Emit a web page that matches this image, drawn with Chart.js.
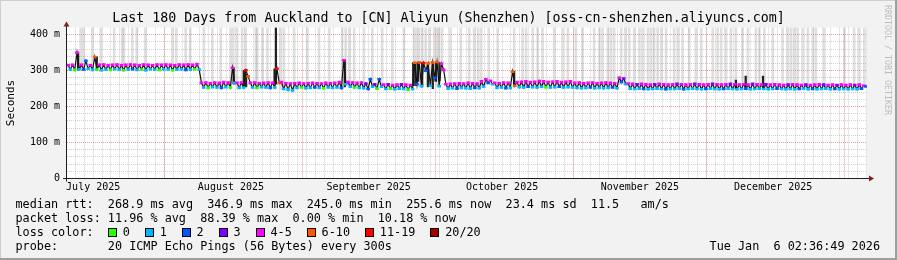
<!DOCTYPE html>
<html><head><meta charset="utf-8">
<script src="https://cdn.jsdelivr.net/npm/chart.js@4/dist/chart.umd.min.js"></script>
<style>
html,body{margin:0;padding:0;background:#f2f2f2;overflow:hidden}
canvas{display:block}
</style></head>
<body><canvas id="c" width="897" height="260"></canvas>
<script>
// ---------------- DATA ----------------
const chartTitle = 'Last 180 Days from Auckland to [CN] Aliyun (Shenzhen) [oss-cn-shenzhen.aliyuncs.com]';
const monthLabels = ['July 2025','August 2025','September 2025','October 2025','November 2025','December 2025'];
const yTickLabels = ['0','100 m','200 m','300 m','400 m'];
const yMaxMs = 420;
const lossLabels = ['0','1','2','3','4-5','6-10','11-19','20/20'];
const lossColors = ['#26ff00','#00b8ff','#0059ff','#7e00ff','#ff00ff','#ff5500','#ff0000','#a00000'];

// daily median high / low (ms), day 0 = Jul 10 2025
const medHi = [
 315,316,350,316,327,315,338,316,317,315, 316,317,315,316,317,316,315,317,316,315,
 317,316,317,316,315,317,316,317,316,318,
 266,267,265,267,266,268,267,308,266,267, 301,266,267,265,266,267,266,305,268,265,
 264,265,266,264,265,266,265,264,266,265, 266,268,329,268,267,266,267,264,276,262,
 276,261,262,260,261,262,261,260,
 322,323,321,320,323,324,319,
 262,263,264,265,264,266,265,264,
 270,276,272,266,265,267,266,
 297,
 268,269,270,268,269,271,270,268,269,270,268,269,270,
 266,267,265,266,267,265,266,267,266,265,
 280,278,
 264,263,262,263,262,261,262,263,262,261, 262,263,262,261,262,263,262,261,262,263,
 262,261,262,263,262,261,262,261,263,262, 261,262,261,262,261,260,261,262,261,260,
 261,260,261,262,261,260,261,260,261,260, 261,260,261,258
];
const medLo = [
 303,302,304,303,305,302,303,301,303,302, 304,303,301,303,304,302,303,301,304,303,
 302,304,303,301,303,304,302,303,304,303,
 253,252,254,253,252,254,253,266,252,253, 284,253,252,254,253,252,253,266,249,247,
 245,252,253,251,252,253,252,251,253,252, 253,252,262,255,253,252,251,249,255,250,
 255,249,250,248,250,249,247,249,
 262,257,300,258,280,257,302,
 250,251,250,252,251,250,252,251,
 256,266,262,252,253,251,252,
 258,
 254,253,255,254,253,255,254,253,254,255,253,254,253,
 252,251,252,253,251,252,251,252,253,251,
 268,262,
 250,249,250,249,248,249,250,249,248,249, 249,250,248,249,250,249,248,249,250,249,
 248,249,250,249,248,249,250,248,249,250, 249,248,249,250,249,248,249,248,249,250,
 248,249,248,249,250,248,249,248,249,248, 249,248,250,256
];
// loss class index (into lossLabels) for the high / low medians
const lossHi = [
 4,4,4,4,2,4,5,4,4,4, 4,4,4,4,4,4,4,4,4,4, 4,4,4,4,4,4,4,4,4,4,
 4,4,4,4,4,4,4,4,4,4, 6,4,4,4,4,4,4,6,4,4, 4,4,4,4,4,4,4,4,4,4, 4,4,4,4,4,4,4,3,2,3,
 2,4,3,4,4,3,4,4,
 5,5,6,5,5,5,4,
 4,4,4,4,4,4,4,4, 4,4,4,4,4,4,4, 5, 4,4,4,4,4,4,4,4,4,4,4,4,4, 4,4,4,4,4,4,4,4,4,4, 4,3,
 4,4,3,4,4,4,3,4,4,4, 4,3,4,4,4,3,4,4,4,3, 4,4,4,3,4,4,4,4,3,4,
 4,3,4,4,4,4,3,4,4,4, 3,4,4,4,3,4,4,3,4,4, 4,3,4,4
];
const lossLo = [
 1,0,1,2,1,1,0,1,1,0, 1,1,0,1,2,1,0,1,1,1, 0,1,1,0,1,1,2,1,0,1,
 1,0,1,1,2,1,0,1,1,1, 5,1,0,1,1,2,1,5,1,1, 1,1,0,1,1,2,1,0,1,1, 1,2,1,1,0,1,1,2,1,0,
 1,1,0,1,1,1,0,1,
 2,1,2,1,2,1,4,
 1,1,2,1,1,1,2,1, 1,2,1,1,1,2,1, 5, 1,1,2,1,1,1,0,1,1,2,1,1,1, 1,1,1,2,1,1,1,1,2,1, 2,1,
 1,1,1,2,1,1,1,1,2,1, 1,1,2,1,1,1,1,2,1,1, 1,2,1,1,1,1,2,1,1,1,
 1,1,1,2,1,1,1,1,2,1, 1,2,1,1,1,1,2,1,1,1, 1,1,2,2
];
// days with smoke (ping spread) reaching the top of the graph
const smokeDays = [3.1,3.7,5.7,7.6,10.6,12.4,12.8,14.7,15.7,17.6,23.7,24.6,26.7,27.7,30.8,32.7,
 34.6,36.8,37.4,38.3,39.4,40.2,42.5,42.8,44.0,45.1,48.1,48.8,51.1,54.1,56.7,59.0,61.9,62.7,63.5,
 64.6,66.8,68.7,70.9,73.2,75.8,78.1,78.7,79.2,79.9,80.7,81.5,82.6,83.3,83.7,84.4,86.3,88.6,90.5,
 91.6,92.5,93.2,94.9,96.9,100.6,102.5,103.3,104.8,105.9,107.0,109.6,111.5,112.7,114.5,116.0,
 118.6,119.8,120.5,121.7,122.4,123.1,124.7,125.6,126.5,127.6,128.8,129.5,130.7,131.4,132.1,
 132.9,133.7,134.8,136.6,137.4,138.5,140.0,141.5,142.7,145.3,146.4,147.2,148.3,149.4,150.5,
 152.0,153.2,155.0,155.8,156.9,158.8,161.0,162.2,162.9,163.6,164.4,165.5,166.7,167.8,168.5,
 170.4,174.9,177.1,178.3,179.4];
// dense dark smoke columns: day, low, high (ms)
const darkDays = [2.5,6.7,37.5,39.8,40.3,46.7,47.0,62.5,77.9,78.4,79.0,79.9,81.2,82.3,83.0,83.8,100.6,150.5,152.7,156.6];
const darkLow  = [302,302,262,255,255,262,262,255,258,258,270,255,255,250,270,272,255,250,250,250];
const darkHigh = [350,338,308,301,290,305,420,329,322,322,322,322,322,322,322,322,298,274,285,285];

const statLines = [
 'median rtt:  268.9 ms avg  346.9 ms max  245.0 ms min  255.6 ms now  23.4 ms sd  11.5   am/s',
 'packet loss: 11.96 % avg  88.39 % max  0.00 % min  10.18 % now'
];
const lossCaption = 'loss color:';
const probeLine = 'probe:       20 ICMP Echo Pings (56 Bytes) every 300s';
const stampText = 'Tue Jan  6 02:36:49 2026';
const watermark = 'RRDTOOL / TOBI OETIKER';

// ---------------- TIME AXIS HELPERS ----------------
const startMs = Date.UTC(2025, 6, 10, 2, 36, 49);
const toDay = ms => (ms - startMs) / 864e5;
const monthStarts = [];
const monthMids = [];
for (let m = 6; m <= 12; m++) {
  const t = Date.UTC(2025, m, 1);
  if (toDay(t) > 0 && toDay(t) < 180) monthStarts.push(toDay(t));
  if (m < 12) monthMids.push(toDay(Date.UTC(2025, m, 16)));
}
const minorDays = [];
for (let t = Date.UTC(2025, 6, 12); toDay(t) < 180; t += 2 * 864e5) minorDays.push(toDay(t));

// ---------------- DATASETS ----------------
const medianPts = [], markerCols = [];
for (let d = 0; d < medHi.length; d++) {
  medianPts.push({x: d + 0.25, y: medHi[d]}); markerCols.push(lossColors[lossHi[d]]);
  medianPts.push({x: d + 0.75, y: medLo[d]}); markerCols.push(lossColors[lossLo[d]]);
}
const smokePts = smokeDays.map(d => ({x: d, y: [medLo[Math.min(medLo.length - 1, Math.floor(d))] - 2, yMaxMs]}));
const darkPts = darkDays.map((d, i) => ({x: d, y: [darkLow[i], darkHigh[i]]}));

const MONO = 'DejaVu Sans Mono';
const GRID_MINOR = 'rgba(143,143,143,0.42)';
const GRID_MAJOR = 'rgba(222,79,79,0.55)';

const rrdPlugin = {
  id: 'rrd',
  beforeDraw(chart) {
    const {ctx, chartArea: a} = chart;
    ctx.save();
    ctx.fillStyle = '#f2f2f2'; ctx.fillRect(0, 0, 897, 260);
    ctx.fillStyle = '#cfcfcf'; ctx.fillRect(0, 0, 897, 1); ctx.fillRect(0, 0, 1, 260);
    ctx.fillStyle = '#9e9e9e'; ctx.fillRect(0, 258, 897, 2); ctx.fillRect(895, 0, 2, 260);
    ctx.fillStyle = '#ffffff'; ctx.fillRect(a.left, a.top, a.right - a.left, a.bottom - a.top);
    ctx.restore();
  },
  afterDraw(chart) {
    const {ctx, chartArea: a} = chart;
    const y0 = chart.scales.y.getPixelForValue(0);
    ctx.save();
    // axes
    ctx.strokeStyle = '#1f1f1f'; ctx.lineWidth = 1;
    ctx.beginPath();
    ctx.moveTo(a.left - 4, Math.round(y0) - 0.5); ctx.lineTo(a.right + 5, Math.round(y0) - 0.5);
    ctx.moveTo(a.left - 0.5, y0 + 3); ctx.lineTo(a.left - 0.5, a.top - 4);
    ctx.stroke();
    // arrows
    ctx.fillStyle = '#801f1f';
    ctx.beginPath();
    ctx.moveTo(a.right + 2, Math.round(y0) - 3.5); ctx.lineTo(a.right + 7, Math.round(y0) - 0.5); ctx.lineTo(a.right + 2, Math.round(y0) + 2.5);
    ctx.closePath(); ctx.fill();
    ctx.beginPath();
    ctx.moveTo(a.left - 3.5, a.top - 1); ctx.lineTo(a.left - 0.5, a.top - 6); ctx.lineTo(a.left + 2.5, a.top - 1);
    ctx.closePath(); ctx.fill();
    // legend texts
    ctx.fillStyle = '#000';
    ctx.font = '11.8px "' + MONO + '"';
    ctx.textBaseline = 'middle';
    ctx.textAlign = 'left';
    const lx = 15.5, rows = [204.5, 218.7, 232.8, 246.9];
    const cw = ctx.measureText('0').width;
    ctx.fillText(statLines[0], lx, rows[0]);
    ctx.fillText(statLines[1], lx, rows[1]);
    ctx.fillText(lossCaption, lx, rows[2]);
    let bx = lx + 13 * cw;
    lossLabels.forEach((lab, i) => {
      ctx.fillStyle = lossColors[i];
      ctx.fillRect(Math.round(bx), 228, 8, 8);
      ctx.strokeStyle = '#000'; ctx.lineWidth = 1;
      ctx.strokeRect(Math.round(bx) + 0.5, 228.5, 8, 8);
      ctx.fillStyle = '#000';
      const tx = bx + 2.1 * cw;
      ctx.fillText(lab, tx, rows[2]);
      bx = tx + ctx.measureText(lab).width + 2.1 * cw;
    });
    ctx.fillText(probeLine, lx, rows[3]);
    ctx.textAlign = 'right';
    ctx.fillText(stampText, 880, rows[3]);
    // watermark
    ctx.translate(887, 5);
    ctx.rotate(Math.PI / 2);
    ctx.textAlign = 'left';
    ctx.fillStyle = '#bdbdbd';
    ctx.font = '8.3px "' + MONO + '"';
    ctx.fillText(watermark, 0, 0);
    ctx.restore();
  }
};

new Chart(document.getElementById('c'), {
  type: 'line',
  data: {
    datasets: [
      {type: 'line', label: 'median', data: medianPts, borderColor: '#141414', borderWidth: 1.2,
       pointRadius: 0, tension: 0, order: 2},
      {type: 'line', label: 'loss', data: medianPts, showLine: false, pointStyle: 'line',
       pointRadius: 1.8, pointBorderWidth: 2.6, pointBorderColor: markerCols, pointBackgroundColor: markerCols, order: 1},
      {type: 'bar', label: 'smoke', data: smokePts, backgroundColor: 'rgba(150,150,150,0.3)',
       barThickness: 2, grouped: false, borderWidth: 0, order: 4},
      {type: 'bar', label: 'dense', data: darkPts, backgroundColor: '#222222',
       barThickness: 1.6, grouped: false, borderWidth: 0, order: 3}
    ]
  },
  options: {
    responsive: false, devicePixelRatio: 1, animation: false, events: [],
    layout: {padding: {left: 0, right: 0, top: 0, bottom: 0}},
    plugins: {
      legend: {display: false}, tooltip: {enabled: false},
      title: {display: true, text: chartTitle, color: '#000',
        font: {family: MONO, size: 13.3, weight: 'normal'}, padding: {top: 11, bottom: 0.5}}
    },
    scales: {
      x: {type: 'linear', min: 0, max: 180, offset: false, position: 'bottom',
        afterBuildTicks: s => { s.ticks = monthMids.map(v => ({value: v})); },
        afterFit: s => { s.height = 81.5; },
        ticks: {autoSkip: false, maxRotation: 0, padding: 3, color: '#000',
          font: {family: MONO, size: 10}, callback: (v, i) => monthLabels[i]},
        grid: {display: false, drawTicks: false}, border: {display: false}},
      xMajor: {type: 'linear', min: 0, max: 180, offset: false, position: 'bottom', z: -1,
        afterBuildTicks: s => { s.ticks = monthStarts.map(v => ({value: v})); },
        afterFit: s => { s.height = 0; },
        ticks: {display: false},
        grid: {color: GRID_MAJOR, lineWidth: 1, drawTicks: false},
        border: {display: false, dash: [1, 1]}},
      xMinor: {type: 'linear', min: 0, max: 180, offset: false, position: 'bottom', z: -2,
        afterBuildTicks: s => { s.ticks = minorDays.map(v => ({value: v})); },
        afterFit: s => { s.height = 0; },
        ticks: {display: false},
        grid: {color: GRID_MINOR, lineWidth: 1, drawTicks: false},
        border: {display: false, dash: [1, 1]}},
      y: {type: 'linear', min: 0, max: yMaxMs, position: 'left',
        afterFit: s => { s.width = 67; },
        ticks: {stepSize: 20, autoSkip: false, padding: 7, color: '#000',
          font: {family: MONO, size: 10},
          callback: v => (v % 100 === 0 && v / 100 < yTickLabels.length) ? yTickLabels[v / 100] : ''},
        grid: {drawTicks: false, lineWidth: 1,
          color: c => c.tick.value >= yMaxMs ? 'rgba(0,0,0,0)' : (c.tick.value % 100 === 0 ? GRID_MAJOR : GRID_MINOR)},
        border: {display: false, dash: [1, 1]},
        title: {display: true, text: 'Seconds', color: '#000', font: {family: MONO, size: 11},
          padding: {top: 4.5, bottom: 0}}},
      yRight: {type: 'linear', min: 0, max: yMaxMs, position: 'right',
        afterFit: s => { s.width = 30; },
        ticks: {display: false}, grid: {display: false, drawTicks: false}, border: {display: false}}
    }
  },
  plugins: [rrdPlugin]
});
</script>
</body></html>
